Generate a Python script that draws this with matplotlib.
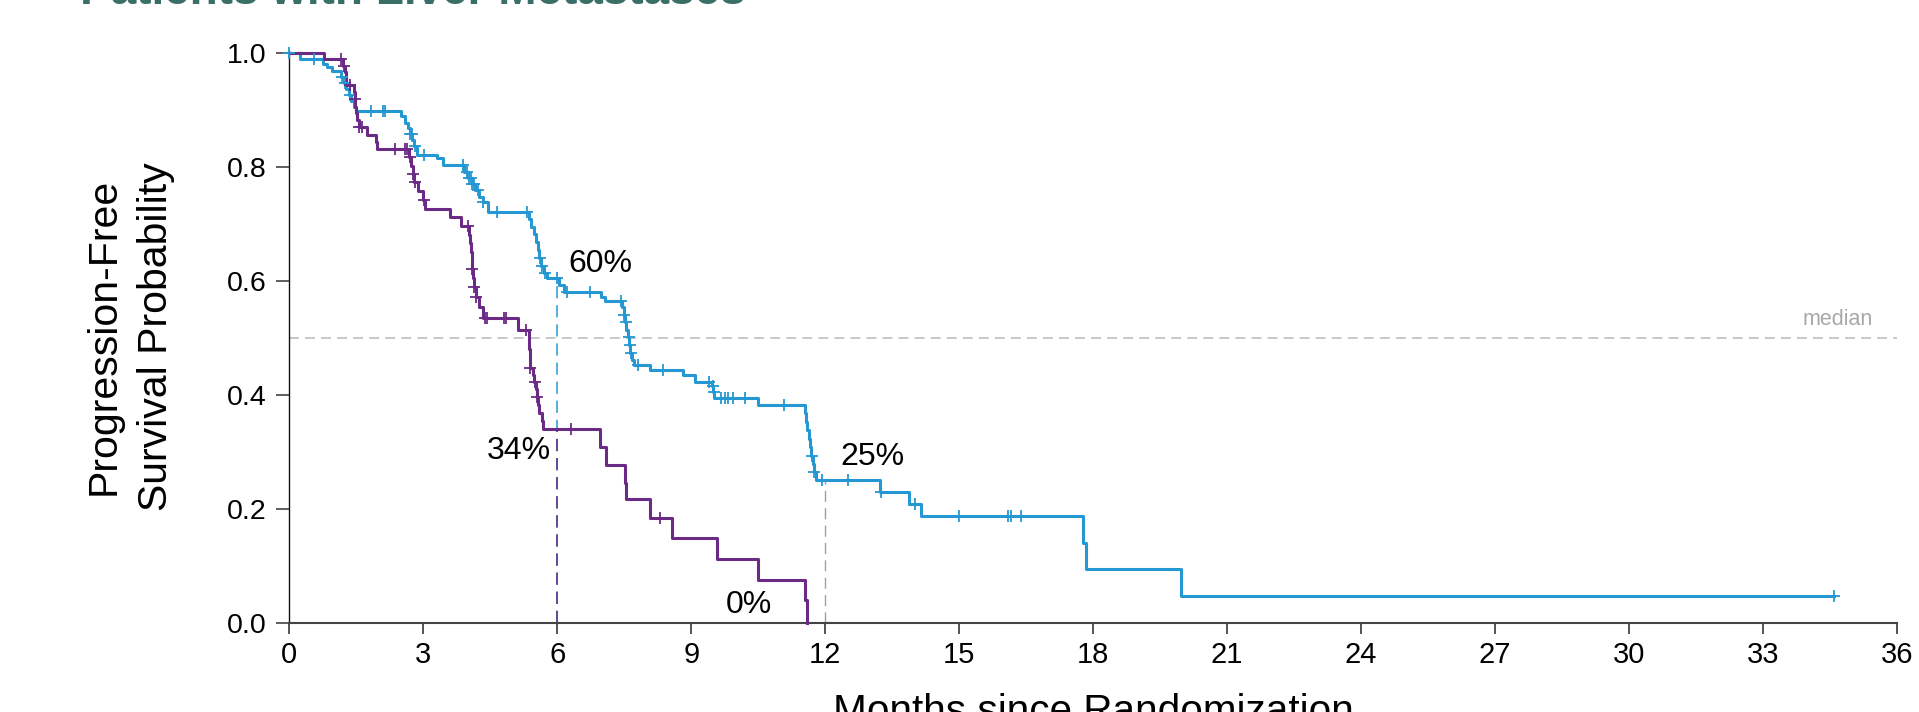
import numpy as np
import matplotlib
matplotlib.use("Agg")
import matplotlib.pyplot as plt

plt.rcParams["font.family"] = ["Liberation Sans", "DejaVu Sans"]

BLUE = "#2598d3"
PURPLE = "#6a2a86"
GREY = "#b9b9b9"

# blue arm: event times (months) and survival after each event
blue_t = [0.25, 0.75, 0.85, 0.95, 1.15, 1.22, 1.28, 1.33, 1.38, 1.45, 1.50,
          2.50, 2.60, 2.65, 2.70, 2.75, 2.80, 2.85, 3.30, 3.45,
          3.92, 4.00, 4.08, 4.15, 4.25, 4.33, 4.45,
          5.37, 5.42, 5.47, 5.52, 5.56, 5.60, 5.64, 5.70, 5.76,
          6.05, 6.15, 6.97, 7.07,
          7.46, 7.49, 7.52, 7.55, 7.58, 7.61, 7.64, 7.67, 7.72,
          8.07, 8.82, 9.08, 9.46, 9.49, 9.52, 10.50, 11.54,
          11.57, 11.60, 11.63, 11.66, 11.69, 11.72, 11.75, 11.80,
          13.22, 13.88, 14.15, 17.78, 17.85, 19.96]
blue_s = [0.990, 0.981, 0.975, 0.969, 0.958, 0.947, 0.937, 0.926, 0.916, 0.905, 0.899,
          0.889, 0.878, 0.868, 0.857, 0.847, 0.836, 0.821, 0.815, 0.803,
          0.792, 0.781, 0.770, 0.759, 0.748, 0.739, 0.721,
          0.708, 0.695, 0.682, 0.668, 0.655, 0.641, 0.627, 0.614, 0.605,
          0.593, 0.581, 0.572, 0.565,
          0.554, 0.541, 0.528, 0.514, 0.501, 0.488, 0.474, 0.461, 0.453,
          0.444, 0.435, 0.423, 0.415, 0.406, 0.394, 0.382, 0.369,
          0.353, 0.338, 0.323, 0.308, 0.293, 0.279, 0.265, 0.251,
          0.230, 0.209, 0.187, 0.140, 0.094, 0.047]
blue_cens = [0.0, 0.56, 1.18, 1.25, 1.35, 1.83, 2.10, 2.14, 2.70, 2.74, 2.81,
             3.02, 3.88, 3.97, 4.02, 4.06, 4.10, 4.14, 4.23, 4.34, 4.66, 5.33,
             5.62, 5.66, 5.72, 6.00, 6.22, 6.73, 7.43, 7.50, 7.53, 7.60, 7.63,
             7.66, 7.80, 8.37, 9.40, 9.48, 9.50, 9.66, 9.75, 9.83, 9.94, 10.20,
             11.07, 11.70, 11.76, 11.92, 12.50, 13.24, 14.00, 15.00, 16.10,
             16.15, 16.38, 34.58]
blue_end = 34.58

# purple arm
purple_t = [0.78, 1.21, 1.24, 1.26, 1.28, 1.44, 1.46, 1.48, 1.50, 1.52, 1.55,
            1.73, 1.94, 1.96, 2.68, 2.72, 2.76, 2.80, 2.89, 2.99, 3.04,
            3.60, 3.84, 4.02, 4.05, 4.07, 4.09, 4.10, 4.11, 4.13, 4.18, 4.25,
            4.33, 5.13, 5.36, 5.37, 5.38, 5.39, 5.45, 5.47, 5.53, 5.55, 5.58,
            5.60, 5.65, 5.69, 6.96, 7.09, 7.52, 7.55, 8.07, 8.58, 9.58, 10.50,
            11.54, 11.60]
purple_s = [0.989, 0.978, 0.967, 0.955, 0.944, 0.932, 0.919, 0.906, 0.894, 0.882, 0.870,
            0.856, 0.843, 0.831, 0.817, 0.802, 0.788, 0.774, 0.758, 0.742, 0.727,
            0.712, 0.696, 0.681, 0.666, 0.651, 0.636, 0.621, 0.606, 0.590, 0.572, 0.554,
            0.535, 0.514, 0.497, 0.481, 0.464, 0.447, 0.435, 0.423, 0.410, 0.397, 0.383,
            0.368, 0.354, 0.340, 0.308, 0.277, 0.246, 0.217, 0.185, 0.149, 0.112, 0.075,
            0.040, 0.0]
purple_cens = [1.16, 1.22, 1.36, 1.47, 1.56, 1.62, 2.37, 2.60, 2.64, 2.70, 2.78,
               2.82, 3.02, 4.00, 4.10, 4.14, 4.18, 4.38, 4.42, 4.81, 4.85, 5.30,
               5.40, 5.51, 5.55, 6.30, 8.30]
purple_end = 11.60

landmarks = [6, 12]
blue_land = [0.605, 0.251]
purple_land = [0.340, 0.0]


def km_arrays(t, s, end):
    tt = np.concatenate([[0.0], t, [end]])
    ss = np.concatenate([[1.0], s, [s[-1]]])
    return tt, ss


def cens_y(tt, ss, c):
    idx = np.searchsorted(tt, c, side="right") - 1
    return ss[np.clip(idx, 0, len(ss) - 1)]


fig = plt.figure(figsize=(19.19, 7.12), dpi=100)
ax = fig.add_axes([289.3 / 1919, 89 / 712, (1897 - 289.3) / 1919, (623 - 50.7) / 712])

# median reference line
ax.axhline(0.5, color=GREY, lw=1.1, dashes=(6.5, 4), zorder=1)
ax.text(35.45, 0.514, "median", color="#a8a8a8", fontsize=15.5, ha="right", va="bottom")

# landmark dashed lines
ax.vlines(landmarks[0], 0, blue_land[0] - 0.01, color=BLUE, lw=1.1,
          linestyles=(0, (8, 4.5)), zorder=2)
ax.vlines(landmarks[0], 0, purple_land[0], color=PURPLE, lw=1.1,
          linestyles=(0, (8, 4.5)), zorder=2)
ax.vlines(landmarks[1], 0, blue_land[1], color="#a0a0a0", lw=1.0,
          linestyles=(0, (8, 4.5)), zorder=2)

for t, s, c, end, col in ((blue_t, blue_s, blue_cens, blue_end, BLUE),
                          (purple_t, purple_s, purple_cens, purple_end, PURPLE)):
    tt, ss = km_arrays(np.array(t), np.array(s), end)
    ax.step(tt, ss, where="post", color=col, lw=2.2, zorder=3, clip_on=False)
    c = np.array(c)
    ax.plot(c, cens_y(tt, ss, c), ls="none", marker="+", ms=9, mew=1.3,
            color=col, zorder=4, clip_on=False)

# landmark percentages
ax.text(6.24, 0.615, f"{blue_land[0] * 100:.0f}%", fontsize=23, ha="left", va="baseline")
ax.text(5.85, 0.287, f"{purple_land[0] * 100:.0f}%", fontsize=23, ha="right", va="baseline")
ax.text(12.34, 0.277, f"{blue_land[1] * 100:.0f}%", fontsize=23, ha="left", va="baseline")
ax.text(10.80, 0.018, f"{purple_land[1] * 100:.0f}%", fontsize=23, ha="right", va="baseline")

ax.set_xlim(0, 36)
ax.set_ylim(0, 1.004)
ax.set_xticks(np.arange(0, 37, 3))
ax.set_yticks([0.0, 0.2, 0.4, 0.6, 0.8, 1.0])
ax.set_yticklabels(["0.0", "0.2", "0.4", "0.6", "0.8", "1.0"])
ax.tick_params(axis="x", labelsize=21, length=7.7, width=1.3, color="#444444", pad=5)
ax.tick_params(axis="y", labelsize=20.5, length=9.5, width=1.1, color="#333333", pad=7)
for side in ("top", "right"):
    ax.spines[side].set_visible(False)
ax.spines["left"].set_color("#111111")
ax.spines["left"].set_linewidth(1.0)
ax.spines["bottom"].set_color("#444444")
ax.spines["bottom"].set_linewidth(1.5)

ax.set_ylabel("Progression-Free\nSurvival Probability", fontsize=29.5, linespacing=1.5)
ax.yaxis.set_label_coords(-0.071, 0.5)
ax.set_xlabel("Months since Randomization", fontsize=29.2)
ax.xaxis.set_label_coords(0.5, -0.123)

# page title above the figure, cut by the top edge as in the source
fig.text(80 / 1919, 1 - 4 / 712, "Patients with Liver Metastases", fontsize=33,
         fontweight="bold", color="#3a6f68", ha="left", va="baseline")

fig.savefig("out.png", dpi=100)
